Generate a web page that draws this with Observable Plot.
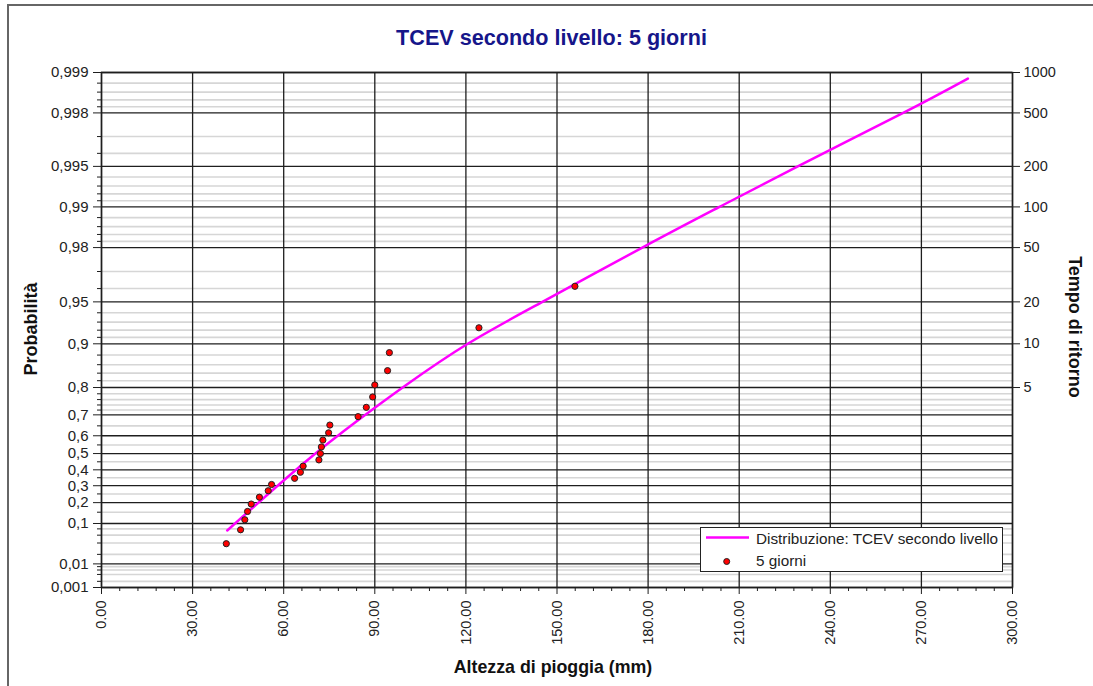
<!DOCTYPE html>
<html>
<head>
<meta charset="utf-8">
<script src="https://cdn.jsdelivr.net/npm/d3@7"></script>
<script src="https://cdn.jsdelivr.net/npm/@observablehq/plot@0.6"></script>
<style>
  body { margin: 0; background: #fff; overflow: hidden; }
  #wrap { position: relative; width: 1093px; height: 686px; overflow: hidden; background: #fff;
          font-family: "Liberation Sans", Arial, sans-serif; }
  #border { position: absolute; left: 7px; top: 4px; width: 1300px; height: 900px; border: 2px solid #666; box-sizing: border-box; }
  #chart { position: absolute; left: 0; top: 0; }
  .lbl { position: absolute; white-space: nowrap; line-height: 1; font-weight: bold; color: #111; }
  #legend { position: absolute; left: 700px; top: 527px; width: 303px; height: 45px; box-sizing: border-box;
            border: 1.5px solid #222; background: #fff; font-size: 15.3px; color: #222; }
  #legend .t { position: absolute; left: 55px; white-space: nowrap; line-height: 1; }
  #legend svg { position: absolute; left: 0; top: 0; }
</style>
</head>
<body>
<div id="wrap">
  <div id="border"></div>
  <div id="chart"></div>
  <div class="lbl" id="title" style="left:551.5px;top:37.5px;transform:translate(-50%,-50%);font-size:21.6px;color:#16168a;">TCEV secondo livello: 5 giorni</div>
  <div class="lbl" style="left:553px;top:667.5px;transform:translate(-50%,-50%);font-size:17.8px;">Altezza di pioggia (mm)</div>
  <div class="lbl" style="left:30.5px;top:329px;transform:translate(-50%,-50%) rotate(-90deg);font-size:18px;">Probabilità</div>
  <div class="lbl" style="left:1074.5px;top:326.5px;transform:translate(-50%,-50%) rotate(90deg);font-size:18px;">Tempo di ritorno</div>
  <div id="legend">
    <svg width="303" height="45">
      <line x1="5" x2="48" y1="9.5" y2="9.5" stroke="#ff00ff" stroke-width="2.5"></line>
      <circle cx="25.7" cy="33.5" r="3" fill="#ff0000" stroke="#222" stroke-width="1"></circle>
    </svg>
    <div class="t" style="top:3px;">Distribuzione: TCEV secondo livello</div>
    <div class="t" style="top:25px;">5 giorni</div>
  </div>
</div>
<script>
// ---- data ----
// axis ticks
const xTicks = [0, 30, 60, 90, 120, 150, 180, 210, 240, 270, 300];
const xMinorTicks = [6, 12, 18, 24, 36, 42, 48, 54, 66, 72, 78, 84, 96, 102, 108, 114, 126, 132, 138, 144,
  156, 162, 168, 174, 186, 192, 198, 204, 216, 222, 228, 234, 246, 252, 258, 264, 276, 282, 288, 294];
const probMajor = [0.001, 0.01, 0.1, 0.2, 0.3, 0.4, 0.5, 0.6, 0.7, 0.8, 0.9, 0.95, 0.98, 0.99, 0.995, 0.998, 0.999];
const probMajorLabels = ["0,001", "0,01", "0,1", "0,2", "0,3", "0,4", "0,5", "0,6", "0,7", "0,8", "0,9",
  "0,95", "0,98", "0,99", "0,995", "0,998", "0,999"];
const probMinor = [0.002, 0.004, 0.006, 0.008, 0.02, 0.04, 0.06, 0.08, 0.15, 0.25, 0.35, 0.45, 0.55, 0.65,
  0.72, 0.74, 0.76, 0.78, 0.82, 0.84, 0.86, 0.88, 0.91, 0.92, 0.93, 0.94, 0.96, 0.97,
  0.982, 0.984, 0.986, 0.988, 0.991, 0.992, 0.993, 0.994, 0.996, 0.997, 0.9982, 0.9984, 0.9986, 0.9988];
const returnPeriods = [5, 10, 20, 50, 100, 200, 500, 1000];

// observed series "5 giorni": rainfall depth (mm) and plotting probability
const rainMm = [41.1, 45.8, 47.2, 48.1, 49.3, 52.0, 54.9, 56.0, 63.6, 65.5, 66.4, 71.6, 72.1,
  72.4, 72.9, 74.8, 75.2, 84.5, 87.2, 89.3, 90.0, 94.2, 94.8, 124.3, 155.9];
const rainProb = [0.0385, 0.0769, 0.1154, 0.1538, 0.1923, 0.2308, 0.2692, 0.3077, 0.3462, 0.3846,
  0.4231, 0.4615, 0.5, 0.5385, 0.5769, 0.6154, 0.6538, 0.6923, 0.7308, 0.7692, 0.8077, 0.8462,
  0.8846, 0.9231, 0.9615];

// fitted distribution "TCEV secondo livello"
const curveMm = [41.4, 66.4, 84.7, 100.1, 120.6, 145.2, 178.1, 203.5, 229.3, 264.0, 285.3];
const curveProb = [0.0746, 0.438, 0.678, 0.806, 0.900, 0.950, 0.980, 0.990, 0.995, 0.998, 0.99889];

// ---- chart ----
const gumbel = p => -Math.log(-Math.log(p));
const leftLabel = new Map(probMajor.map((p, i) => [gumbel(p), probMajorLabels[i]]));
const rightVals = returnPeriods.map(T => gumbel(1 - 1 / T));
const rightLabel = new Map(returnPeriods.map((T, i) => [rightVals[i], String(T)]));

const observed = rainMm.map((mm, i) => ({mm, p: rainProb[i]}));
const fitted = curveMm.map((mm, i) => ({mm, p: curveProb[i]}));

const dark = "#1e1e1e";
const chart = Plot.plot({
  width: 1093,
  height: 686,
  marginLeft: 101,
  marginRight: 81,
  marginTop: 72,
  marginBottom: 99,
  x: {domain: [0, 300], axis: null},
  y: {domain: [gumbel(0.001), gumbel(0.999)], axis: null},
  style: {fontFamily: "'Liberation Sans', Arial, sans-serif", fontSize: "14.5px", color: "#222", background: "transparent"},
  marks: [
    Plot.ruleY(probMinor, {y: gumbel, stroke: "#d6d6d6", strokeWidth: 1.6}),
    Plot.ruleY(probMajor, {y: gumbel, stroke: dark, strokeWidth: 1.3}),
    Plot.ruleX(xTicks, {stroke: dark, strokeWidth: 1.3}),
    Plot.frame({stroke: dark, strokeWidth: 1.5}),
    // left axis
    Plot.axisY(probMinor.map(gumbel), {anchor: "left", tickSize: 4, tickFormat: () => "", stroke: dark, label: null}),
    Plot.axisY(probMajor.map(gumbel), {anchor: "left", tickSize: 8, tickPadding: 5, stroke: dark, fill: "#222",
      fontSize: 15, tickFormat: v => leftLabel.get(v), label: null}),
    // right axis (return period)
    Plot.axisY(rightVals, {anchor: "right", tickSize: 7, tickPadding: 4, stroke: dark, fill: "#222",
      fontSize: 14.5, tickFormat: v => rightLabel.get(v), label: null}),
    // bottom axis
    Plot.axisX(xMinorTicks, {anchor: "bottom", tickSize: 4, tickFormat: () => "", stroke: dark, label: null}),
    Plot.axisX(xTicks, {anchor: "bottom", tickSize: 7, tickFormat: () => "", stroke: dark, label: null}),
    Plot.text(xTicks, {x: d => d, text: d3.format(".2f"), frameAnchor: "bottom", dy: 13, rotate: -90,
      textAnchor: "end", lineAnchor: "middle", fill: "#222", fontSize: 14.5}),
    // data
    Plot.line(fitted, {x: "mm", y: d => gumbel(d.p), stroke: "#ff00ff", strokeWidth: 2.5, curve: "natural"}),
    Plot.dot(observed, {x: "mm", y: d => gumbel(d.p), r: 3.1, fill: "#ff0000", stroke: "#222", strokeWidth: 1})
  ]
});
document.getElementById("chart").appendChild(chart);
</script>
</body>
</html>
